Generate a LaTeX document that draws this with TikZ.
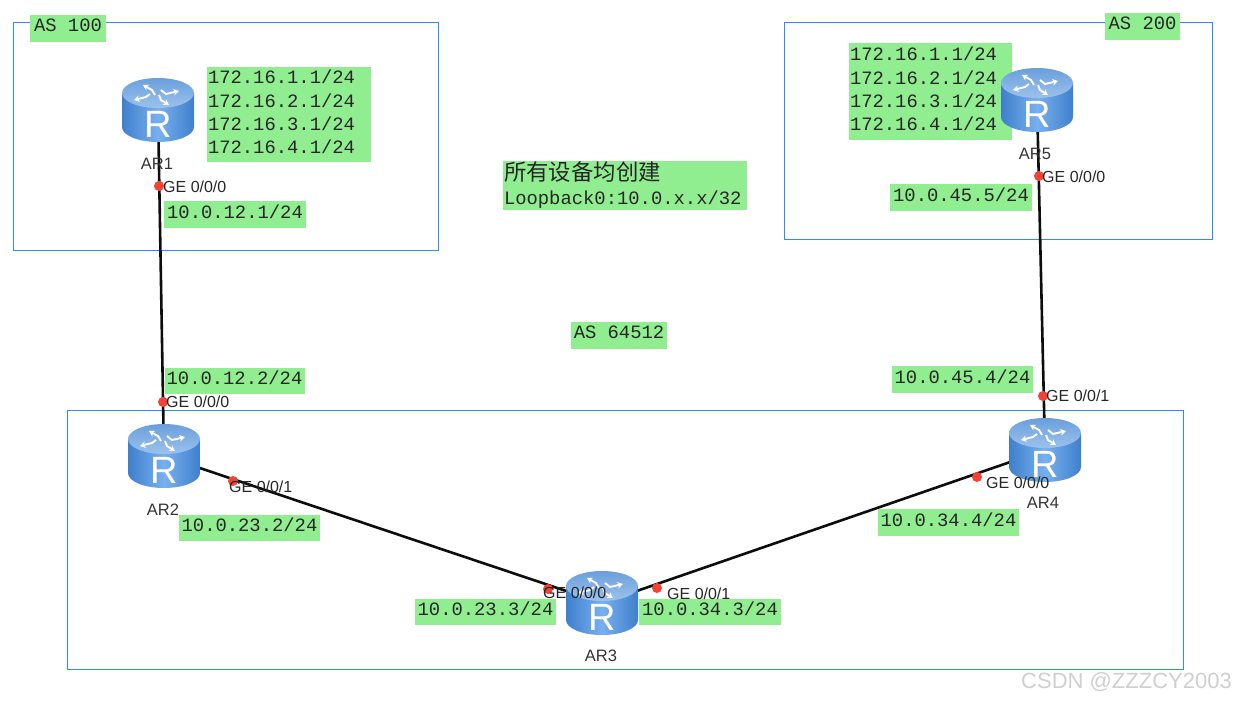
\documentclass[tikz,border=0pt]{standalone}
\usepackage{fontspec}
\setmainfont{Liberation Sans}
\setmonofont{Liberation Mono}
\newfontfamily\cjkfont{Noto Sans CJK SC}
\usetikzlibrary{arrows.meta}
\definecolor{lgreen}{HTML}{90EE90}
\definecolor{boxblue}{HTML}{2B8FEF}
\definecolor{portred}{HTML}{F44336}
\definecolor{bodyedge}{HTML}{3F7FCC}
\definecolor{bodymid}{HTML}{78B0EE}
\definecolor{topdark}{HTML}{6A9FDC}
\definecolor{toplight}{HTML}{9CC2EC}
\definecolor{marktext}{HTML}{CFCFCF}
\tikzset{
  x=1pt,y=-1pt,
  asbox/.style={draw=boxblue,line width=1pt},
  blocklabel/.style={fill=lgreen,inner sep=0pt,font=\ttfamily\fontsize{18.85}{23.4}\selectfont,text=black!85,align=left},
  greenlabel/.style={blocklabel,text depth=6pt},
  gelabel/.style={anchor=west,inner sep=0pt,font=\fontsize{16}{18}\selectfont,text=black!85},
  arlabel/.style={inner sep=0pt,font=\fontsize{16.5}{18}\selectfont,text=black!80},
  portdot/.style={circle,fill=portred,inner sep=0pt,minimum size=10pt},
  linkline/.style={draw=black!95,line width=2.6pt},
  routeranchor/.style={inner sep=0pt,minimum width=72pt,minimum height=65pt},
  topmark/.style={draw=white,line width=1.9pt,-{Stealth[length=5.5pt,width=6.5pt]}}
}
\newcommand{\routerart}[1]{%
  \begin{scope}[shift={(#1.center)}]
    \shade[left color=bodyedge,right color=bodyedge,middle color=bodymid]
      (-36,-17) -- (-36,17) .. controls (-36,25.3) and (-20,32) .. (0,32)
      .. controls (20,32) and (36,25.3) .. (36,17) -- (36,-17) -- cycle;
    \shade[top color=topdark,bottom color=toplight] (0,-17) circle [x radius=36pt,y radius=15pt];
    \draw[topmark] (-3,-15) -- (-6,-20) -- (-15,-25);
    \draw[topmark] (3,-20) -- (8,-16) -- (21,-19);
    \draw[topmark] (-8,-16) -- (-12,-13) -- (-24,-10);
    \draw[topmark] (1,-15) -- (3,-10) -- (11,-5);
    \node (#1R) [inner sep=0pt,text=white,font=\fontsize{38}{38}\selectfont] at (0,14) {R};
  \end{scope}}
\newcommand{\lastline}{\rule[-5pt]{0pt}{5pt}}
\begin{document}
\begin{tikzpicture}
\useasboundingbox (0,0) rectangle (1235,701);
% AS areas
\node (areaA) [asbox,inner sep=0pt,minimum width=425pt,minimum height=227pt] at (225.5,136.5) {};
\node (areaB) [asbox,inner sep=0pt,minimum width=428pt,minimum height=216pt] at (998,131) {};
\node (areaC) [asbox,inner sep=0pt,minimum width=1116pt,minimum height=259pt] at (625,539.5) {};
% routers (places)
\node (ra) [routeranchor] at (158,110) {};
\node (rb) [routeranchor] at (164,456) {};
\node (rc) [routeranchor] at (602,603) {};
\node (rd) [routeranchor] at (1045,450) {};
\node (re) [routeranchor] at (1037,100) {};
% links
\draw[linkline] (ra.center) -- (rb.center);
\draw[linkline] (rb.center) -- (rc.center);
\draw[linkline] (rc.center) -- (rd.center);
\draw[linkline] (rd.center) -- (re.center);
% labels behind routers
\node (l1) [blocklabel,text width=162pt,inner xsep=1pt,minimum height=95pt] at (289,114.5) {172.16.1.1/24\\172.16.2.1/24\\172.16.3.1/24\\172.16.4.1/24\lastline};
\node (l2) [blocklabel,text width=161pt,inner xsep=1pt,minimum height=97pt] at (930.5,91.5) {172.16.1.1/24\\172.16.2.1/24\\172.16.3.1/24\\172.16.4.1/24\lastline};
\node (l3) [greenlabel,minimum width=142pt,minimum height=27pt] at (235,214.5) {10.0.12.1/24};
\node (l4) [greenlabel,minimum width=142pt,minimum height=27pt] at (961,197.5) {10.0.45.5/24};
\node (l5) [greenlabel,minimum width=140pt,minimum height=26pt] at (234.5,381) {10.0.12.2/24};
\node (l6) [greenlabel,minimum width=141pt,minimum height=27pt] at (962.5,379.5) {10.0.45.4/24};
\node (l7) [greenlabel,minimum width=141pt,minimum height=26pt] at (249.5,528) {10.0.23.2/24};
\node (l8) [greenlabel,minimum width=141pt,minimum height=27pt] at (948.5,522.5) {10.0.34.4/24};
\node (l9) [greenlabel,minimum width=141pt,minimum height=26pt] at (485.5,612) {10.0.23.3/24};
\node (l10) [greenlabel,minimum width=142pt,minimum height=26pt] at (710,612) {10.0.34.3/24};
\node (l11) [greenlabel,minimum width=76pt,minimum height=27pt] at (68,28.5) {AS 100};
\node (l12) [greenlabel,minimum width=75pt,minimum height=27pt] at (1142.5,26.5) {AS 200};
\node (l13) [greenlabel,minimum width=96pt,minimum height=27pt] at (619,335.5) {AS 64512};
\node (l14) [blocklabel,text width=242pt,inner xsep=1pt,minimum height=49pt,anchor=center] at (625,185.5) {{\cjkfont\fontsize{22.4}{24}\selectfont 所有设备均创建}\\[1pt]Loopback0:10.0.x.x/32\lastline};
% router art
\routerart{ra}
\routerart{rb}
\routerart{rc}
\routerart{rd}
\routerart{re}
% ports
\node (p1) [portdot] at (159,186) {};
\node (p2) [portdot] at (163,402) {};
\node (p3) [portdot] at (233,481) {};
\node (p4) [portdot] at (548,589) {};
\node (p5) [portdot] at (657,588) {};
\node (p6) [portdot] at (977,477) {};
\node (p7) [portdot] at (1043,396) {};
\node (p8) [portdot] at (1039,176) {};
\node (g1) [gelabel] at (163,187) {GE 0/0/0};
\node (g2) [gelabel] at (166,402) {GE 0/0/0};
\node (g3) [gelabel] at (229,487) {GE 0/0/1};
\node (g4) [gelabel] at (543,593) {GE 0/0/0};
\node (g5) [gelabel] at (667,594) {GE 0/0/1};
\node (g6) [gelabel] at (986,483) {GE 0/0/0};
\node (g7) [gelabel] at (1046,396) {GE 0/0/1};
\node (g8) [gelabel] at (1042,177) {GE 0/0/0};
\node (n1) [arlabel] at (157,164) {AR1};
\node (n2) [arlabel] at (163,510) {AR2};
\node (n3) [arlabel] at (601,656) {AR3};
\node (n4) [arlabel] at (1043,503) {AR4};
\node (n5) [arlabel] at (1035,154) {AR5};
\node (wm) [anchor=east,inner sep=0pt,text=marktext,font=\fontsize{22}{24}\selectfont] at (1232,682) {CSDN @ZZZCY2003};
\end{tikzpicture}
\end{document}
